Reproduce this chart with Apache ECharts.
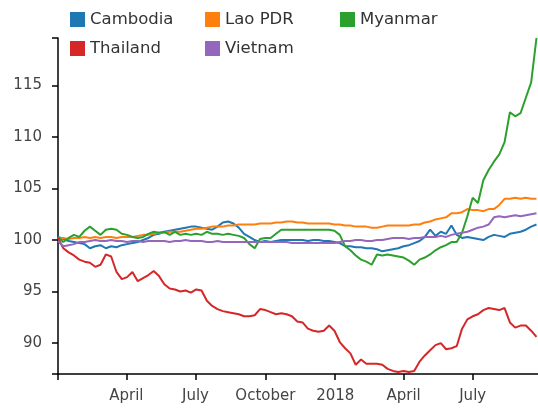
<!DOCTYPE html>
<html>
<head>
<meta charset="utf-8">
<script src="https://cdn.jsdelivr.net/npm/echarts@6/dist/echarts.min.js"></script>
<style>
  html, body { margin: 0; padding: 0; background: #fff; }
  #chart { width: 538px; height: 408px; }
</style>
</head>
<body>
<div id="chart"></div>
<script>
// weekly samples, index 0 = 2017-01-01
var countries = ['Cambodia', 'Lao PDR', 'Myanmar', 'Thailand', 'Vietnam'];
var colors = ['#1f77b4', '#ff7f0e', '#2ca02c', '#d62728', '#9467bd'];

var cambodia = [100.3,100.1,99.9,99.8,99.7,99.6,99.2,99.4,99.5,99.2,99.4,99.3,99.5,99.6,99.7,99.8,100.0,100.2,100.5,100.6,
  100.8,100.9,101.0,101.1,101.2,101.3,101.3,101.2,101.1,101.0,101.3,101.7,101.8,101.6,101.2,100.6,100.3,100.0,99.8,99.9,
  99.8,99.9,100.0,100.0,100.0,100.0,100.0,99.9,100.0,100.0,99.9,99.9,99.8,99.7,99.4,99.4,99.3,99.3,99.2,99.2,
  99.1,98.9,99.0,99.1,99.2,99.4,99.5,99.7,99.9,100.3,101.0,100.4,100.8,100.6,101.4,100.5,100.2,100.3,100.2,100.1,
  100.0,100.3,100.5,100.4,100.3,100.6,100.7,100.8,101.0,101.3,101.5];
var laos = [100.1,100.2,100.1,100.2,100.2,100.3,100.2,100.3,100.2,100.3,100.3,100.2,100.3,100.3,100.3,100.4,100.5,100.5,100.6,100.7,
  100.7,100.8,100.8,100.8,100.9,101.0,101.1,101.1,101.2,101.3,101.3,101.3,101.4,101.4,101.5,101.5,101.5,101.5,101.6,101.6,
  101.6,101.7,101.7,101.8,101.8,101.7,101.7,101.6,101.6,101.6,101.6,101.6,101.5,101.5,101.4,101.4,101.3,101.3,101.3,101.2,
  101.2,101.3,101.4,101.4,101.4,101.4,101.4,101.5,101.5,101.7,101.8,102.0,102.1,102.2,102.6,102.6,102.7,103.0,102.9,102.9,
  102.8,103.0,103.0,103.4,104.0,104.0,104.1,104.0,104.1,104.0,104.0];
var myanmar = [100.3,99.8,100.2,100.5,100.3,100.9,101.3,100.9,100.5,101.0,101.1,101.0,100.6,100.5,100.3,100.2,100.3,100.6,100.8,100.7,
  100.8,100.5,100.8,100.5,100.6,100.5,100.6,100.5,100.8,100.6,100.6,100.5,100.6,100.5,100.4,100.2,99.6,99.2,100.1,100.2,
  100.2,100.6,101.0,101.0,101.0,101.0,101.0,101.0,101.0,101.0,101.0,101.0,100.9,100.5,99.4,99.0,98.5,98.1,97.9,97.6,
  98.6,98.5,98.6,98.5,98.4,98.3,98.0,97.6,98.1,98.3,98.6,99.0,99.3,99.5,99.8,99.8,100.7,102.3,104.1,103.6,
  105.8,106.8,107.6,108.3,109.5,112.4,112.0,112.3,113.8,115.3,119.6];
var thailand = [100.2,99.2,98.8,98.5,98.1,97.9,97.8,97.4,97.6,98.6,98.4,96.9,96.2,96.4,96.9,96.0,96.3,96.6,97.0,96.5,
  95.7,95.3,95.2,95.0,95.1,94.9,95.2,95.1,94.1,93.6,93.3,93.1,93.0,92.9,92.8,92.6,92.6,92.7,93.3,93.2,
  93.0,92.8,92.9,92.8,92.6,92.1,92.0,91.4,91.2,91.1,91.2,91.7,91.2,90.1,89.5,89.0,87.9,88.4,88.0,88.0,
  88.0,87.9,87.5,87.3,87.2,87.3,87.2,87.3,88.2,88.8,89.3,89.8,90.0,89.4,89.5,89.7,91.4,92.3,92.6,92.8,
  93.2,93.4,93.3,93.2,93.4,92.0,91.5,91.7,91.7,91.2,90.6];
var vietnam = [99.9,99.4,99.5,99.6,99.8,99.8,99.9,100.0,99.9,99.9,100.0,99.9,99.9,99.8,99.9,99.9,99.8,99.9,99.9,99.9,
  99.9,99.8,99.9,99.9,100.0,99.9,99.9,99.9,99.8,99.8,99.9,99.8,99.8,99.8,99.8,99.8,99.8,99.8,99.8,99.8,
  99.8,99.8,99.8,99.8,99.7,99.7,99.7,99.7,99.7,99.7,99.7,99.7,99.7,99.8,99.9,99.9,100.0,100.0,99.9,99.9,
  100.0,100.0,100.1,100.2,100.2,100.2,100.1,100.2,100.2,100.3,100.3,100.3,100.4,100.3,100.5,100.6,100.7,100.8,101.0,101.2,
  101.3,101.5,102.2,102.3,102.2,102.3,102.4,102.3,102.4,102.5,102.6];

var yTicks = [90, 95, 100, 105, 110, 115];
var xTickDates = [Date.UTC(2017, 3, 1), Date.UTC(2017, 6, 1), Date.UTC(2017, 9, 1), Date.UTC(2018, 0, 1), Date.UTC(2018, 3, 1), Date.UTC(2018, 6, 1)];
var xTickLabels = ['April', 'July', 'October', '2018', 'April', 'July'];

var start = Date.UTC(2017, 0, 1);
var end = Date.UTC(2018, 8, 25);
var day = 24 * 3600 * 1000;
var dates = cambodia.map(function (v, i) { return start + i * 7 * day; });

var allSeries = [cambodia, laos, myanmar, thailand, vietnam];
var yMin = 87;
var yMax = Math.max.apply(null, myanmar);

var legendPos = [[70, 11], [205, 11], [340, 11], [70, 40], [205, 40]];

var myChart = echarts.init(document.getElementById('chart'));
var font = 'DejaVu Sans, Verdana, sans-serif';

var option = {
  animation: false,
  color: colors,
  textStyle: { fontFamily: font },
  legend: countries.map(function (name, i) {
    return {
      data: [name],
      left: legendPos[i][0],
      top: legendPos[i][1],
      padding: 0,
      icon: 'rect',
      itemWidth: 15,
      itemHeight: 15,
      textStyle: { fontSize: 16.5, color: '#333', fontFamily: font }
    };
  }),
  grid: { left: 58, right: 0, top: 38, bottom: 34 },
  xAxis: {
    type: 'value',
    min: start,
    max: end,
    splitLine: { show: false },
    axisLine: { onZero: false, lineStyle: { color: '#000', width: 1.5 } },
    axisTick: {
      show: true, length: 6,
      customValues: [start].concat(xTickDates),
      lineStyle: { color: '#000', width: 1.5 }
    },
    axisLabel: {
      customValues: xTickDates,
      color: '#444', fontSize: 15, margin: 15, fontFamily: font,
      formatter: function (v) {
        var k = xTickDates.indexOf(v);
        return k >= 0 ? xTickLabels[k] : '';
      }
    }
  },
  yAxis: {
    type: 'value',
    min: yMin,
    max: yMax,
    splitLine: { show: false },
    axisLine: { show: true, onZero: false, lineStyle: { color: '#000', width: 1.5 } },
    axisTick: {
      show: true, length: 6,
      customValues: [yMin].concat(yTicks).concat([yMax]),
      lineStyle: { color: '#000', width: 1.5 }
    },
    axisLabel: {
      customValues: yTicks,
      color: '#444', fontSize: 15, margin: 16, fontFamily: font
    }
  },
  series: allSeries.map(function (vals, i) {
    return {
      name: countries[i],
      type: 'line',
      showSymbol: false,
      symbol: 'none',
      clip: true,
      lineStyle: { width: 2 },
      data: vals.map(function (v, j) { return [dates[j], v]; })
    };
  })
};
option && myChart.setOption(option);
</script>
</body>
</html>
